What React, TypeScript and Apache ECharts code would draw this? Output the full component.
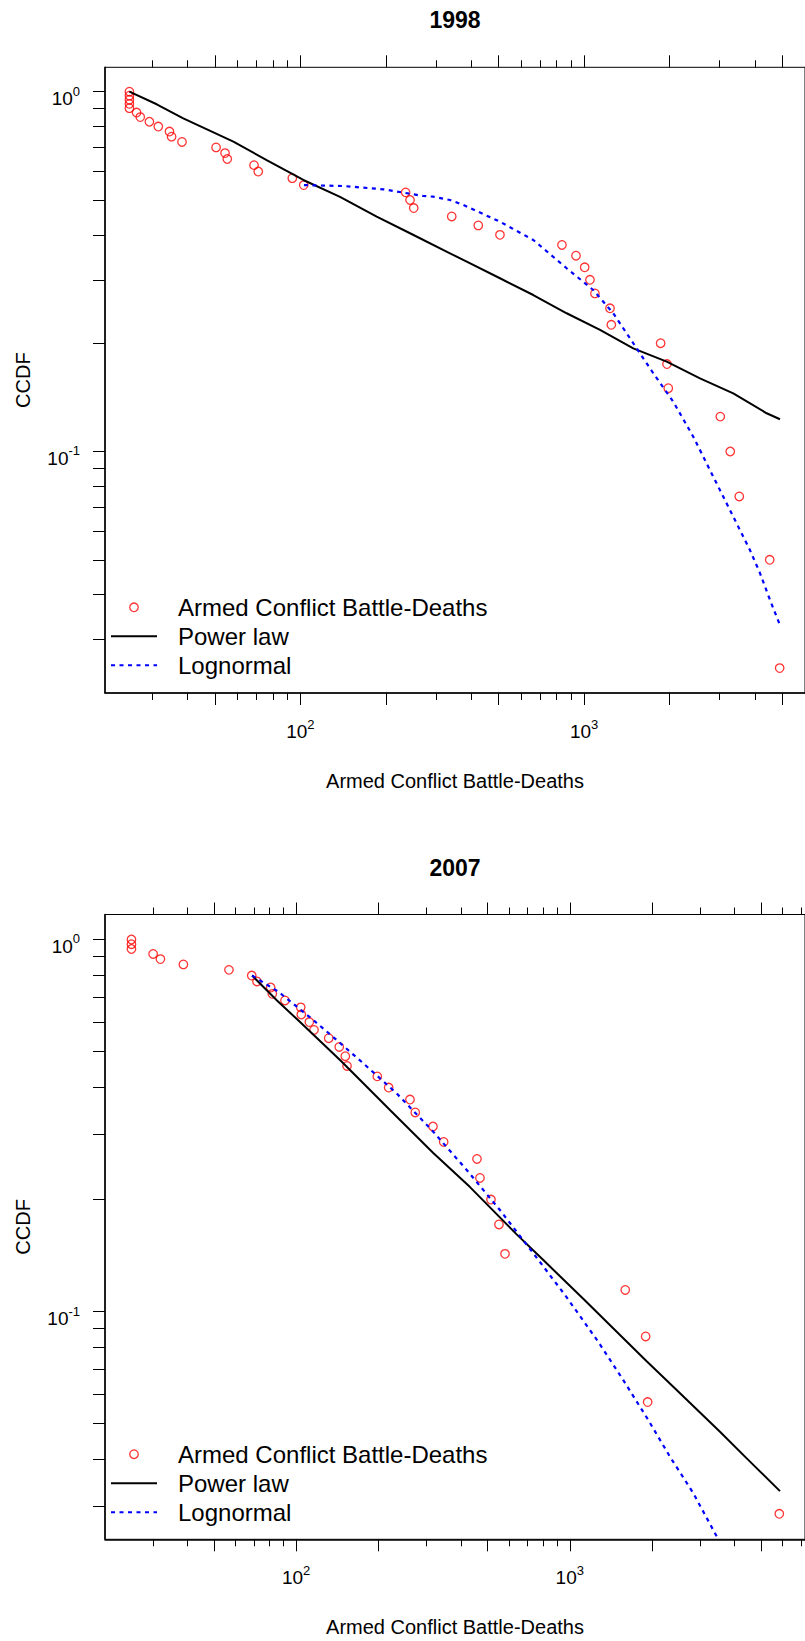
import React, { useEffect, useRef } from "react";
import * as echarts from "echarts";

const FONT = "'Liberation Sans', Arial, Helvetica, sans-serif";

// ---------- 1998 ----------
const deaths1998 = [25, 25, 25, 25, 25, 26.5, 27.3, 29.4, 31.6, 34.6, 35.2, 38.3, 50.5, 54.3, 55.3, 68.7, 71.1, 93.7, 102.8, 235, 243.5, 250.9, 341.5, 423.6, 505, 835, 935.7, 1004, 1048, 1091, 1233, 1246, 1859, 1957, 1978, 3016, 3270, 3518, 4503, 4882];
const ccdf1998 = [1, 0.975, 0.95, 0.925, 0.9, 0.875, 0.85, 0.825, 0.8, 0.775, 0.75, 0.725, 0.7, 0.675, 0.65, 0.625, 0.6, 0.575, 0.55, 0.525, 0.5, 0.475, 0.45, 0.425, 0.4, 0.375, 0.35, 0.325, 0.3, 0.275, 0.25, 0.225, 0.2, 0.175, 0.15, 0.125, 0.1, 0.075, 0.05, 0.025];
const powerLaw1998X = [25, 31.2, 38.7, 58.1, 76.1, 102.5, 138, 185.8, 243.5, 336.7, 385.6, 505, 661.8, 867.6, 1137, 1489, 1953, 2558, 3351, 4394, 4895];
const powerLaw1998Y = [1, 0.9226, 0.8435, 0.7262, 0.6457, 0.5683, 0.5102, 0.4494, 0.4042, 0.3555, 0.337, 0.303, 0.2722, 0.2422, 0.2177, 0.1935, 0.1777, 0.1597, 0.1451, 0.1277, 0.1229];
const lognormal1998X = [103, 141.7, 196.1, 271.3, 294.1, 336.7, 375, 505, 661.8, 867.6, 1076, 1266, 1489, 1751, 2060, 2423, 2849, 3351, 3837, 4162, 4512, 4866];
const lognormal1998Y = [0.55, 0.5468, 0.5355, 0.513, 0.5107, 0.5, 0.4844, 0.4352, 0.3871, 0.323, 0.2811, 0.2422, 0.1999, 0.165, 0.1375, 0.1099, 0.0851, 0.0659, 0.0532, 0.0459, 0.0387, 0.0333];
const xRange1998 = [20.51, 5996];
const yRange1998 = [0.02132, 1.1689];

// ---------- 2007 ----------
const deaths2007 = [25, 25, 25, 30, 31.9, 38.7, 56.8, 68.8, 71.9, 80.7, 81.8, 91, 103.9, 104.4, 111.7, 116.2, 131.5, 143.7, 151.2, 153.4, 197.9, 217.8, 260.6, 272.4, 316.2, 346, 458, 469.6, 515.2, 551, 579.8, 1595, 1894, 1926, 5832];
const ccdf2007 = [1, 0.9714, 0.9429, 0.9143, 0.8857, 0.8571, 0.8286, 0.8, 0.7714, 0.7429, 0.7143, 0.6857, 0.6571, 0.6286, 0.6, 0.5714, 0.5429, 0.5143, 0.4857, 0.4571, 0.4286, 0.4, 0.3714, 0.3429, 0.3143, 0.2857, 0.2571, 0.2286, 0.2, 0.1714, 0.1429, 0.1143, 0.0857, 0.0571, 0.0286];
const powerLaw2007X = [69, 84.9, 103.3, 144.6, 175.9, 220.2, 317, 431.9, 639.5, 800.3, 1120, 1526, 1910, 2389, 3540, 4433, 5865];
const powerLaw2007Y = [0.8, 0.6865, 0.6, 0.4745, 0.4108, 0.348, 0.2668, 0.216, 0.1612, 0.1375, 0.1082, 0.0865, 0.0735, 0.0628, 0.0475, 0.0403, 0.0329];
const lognormal2007X = [69, 86, 115.5, 140.6, 175.9, 232.9, 317, 420.1, 555.6, 735.6, 960.4, 1271, 1569, 1936, 2324, 2828, 3490];
const lognormal2007Y = [0.8, 0.724, 0.6074, 0.5368, 0.4647, 0.3859, 0.3043, 0.2401, 0.1874, 0.1434, 0.1108, 0.0829, 0.0654, 0.0511, 0.0407, 0.0325, 0.0244];
const xRange2007 = [20.01, 7240];
const yRange2007 = [0.02442, 1.1673];

// ---------- ticks / labels ----------
const majorXTicks = [20, 50, 100, 200, 500, 1000, 2000, 5000];
const minorXTicks = [30, 40, 60, 70, 80, 90, 300, 400, 600, 700, 800, 900, 3000, 4000, 6000, 7000, 8000, 9000];
const xLabelTicks = [100, 1000];
const yTicks = [1, 0.9, 0.8, 0.7, 0.6, 0.5, 0.4, 0.3, 0.2, 0.1, 0.09, 0.08, 0.07, 0.06, 0.05, 0.04, 0.03, 0.02];
const yLabelTicks = [1, 0.1];

const seriesNames = ["Armed Conflict Battle-Deaths", "Power law", "Lognormal"];
const xTitle = "Armed Conflict Battle-Deaths";
const yTitle = "CCDF";
const titles = ["1998", "2007"];

const zip = (xs: number[], ys: number[]) => xs.map((x, i) => [x, ys[i]]);

const rich = {
  b: { fontSize: 19, fontFamily: FONT, color: "#000", verticalAlign: "middle" },
  s: { fontSize: 13, fontFamily: FONT, color: "#000", verticalAlign: "middle", padding: [0, 0, 15, 0] },
};
const supFormatter = (v: number) => `{b|10}{s|${Math.round(Math.log10(v))}}`;

type Panel = {
  title: string;
  grid: { left: number; top: number; width: number; height: number };
  xRange: number[];
  yRange: number[];
  pts: number[][];
  pl: number[][];
  ln: number[][];
  legendTop: number;
  titleTop: number;
};

const panels: Panel[] = [
  {
    title: titles[0],
    grid: { left: 105, top: 67.3, width: 700, height: 625.7 },
    xRange: xRange1998,
    yRange: yRange1998,
    pts: zip(deaths1998, ccdf1998),
    pl: zip(powerLaw1998X, powerLaw1998Y),
    ln: zip(lognormal1998X, lognormal1998Y),
    legendTop: 595.3,
    titleTop: 20,
  },
  {
    title: titles[1],
    grid: { left: 105, top: 914.5, width: 700, height: 624.8 },
    xRange: xRange2007,
    yRange: yRange2007,
    pts: zip(deaths2007, ccdf2007),
    pl: zip(powerLaw2007X, powerLaw2007Y),
    ln: zip(lognormal2007X, lognormal2007Y),
    legendTop: 1442.2,
    titleTop: 868,
  },
];

function buildOption() {
  const grid: any[] = [];
  const xAxis: any[] = [];
  const yAxis: any[] = [];
  const series: any[] = [];
  const legend: any[] = [];
  const title: any[] = [];

  panels.forEach((p, pi) => {
    grid.push({
      ...p.grid,
      show: true,
      borderColor: "#000",
      borderWidth: 1,
      backgroundColor: "transparent",
    });
    const xBase = {
      type: "log",
      logBase: 10,
      gridIndex: pi,
      min: p.xRange[0],
      max: p.xRange[1],
      splitLine: { show: false },
    };
    const xStart = xAxis.length;
    // bottom: major ticks, labels and title
    xAxis.push({
      ...xBase,
      position: "bottom",
      axisLine: { show: true, onZero: false, lineStyle: { color: "#000", width: 1.5 } },
      axisTick: { show: true, customValues: majorXTicks, length: 12, lineStyle: { color: "#000", width: 1 } },
      axisLabel: {
        show: true,
        customValues: xLabelTicks,
        formatter: supFormatter,
        rich,
        fontSize: 19,
        fontFamily: FONT,
        margin: 24.5,
        color: "#000",
      },
      name: xTitle,
      nameLocation: "middle",
      nameGap: 78,
      nameTextStyle: { fontSize: 20, fontFamily: FONT, color: "#000" },
    });
    // bottom: minor ticks
    xAxis.push({
      ...xBase,
      position: "bottom",
      axisLine: { show: false, onZero: false },
      axisTick: { show: true, customValues: minorXTicks, length: 7, lineStyle: { color: "#000", width: 1 } },
      axisLabel: { show: false },
    });
    // top: major ticks
    xAxis.push({
      ...xBase,
      position: "top",
      axisLine: { show: false, onZero: false },
      axisTick: { show: true, customValues: majorXTicks, length: 12, lineStyle: { color: "#000", width: 1 } },
      axisLabel: { show: false },
    });
    // top: minor ticks
    xAxis.push({
      ...xBase,
      position: "top",
      axisLine: { show: false, onZero: false },
      axisTick: { show: true, customValues: minorXTicks, length: 7, lineStyle: { color: "#000", width: 1 } },
      axisLabel: { show: false },
    });

    yAxis.push({
      type: "log",
      logBase: 10,
      gridIndex: pi,
      min: p.yRange[0],
      max: p.yRange[1],
      position: "left",
      splitLine: { show: false },
      axisLine: { show: true, onZero: false, lineStyle: { color: "#000", width: 1.5 } },
      axisTick: { show: true, customValues: yTicks, length: 12, lineStyle: { color: "#000", width: 1 } },
      axisLabel: {
        show: true,
        customValues: yLabelTicks,
        formatter: supFormatter,
        rich,
        fontSize: 19,
        fontFamily: FONT,
        margin: 25,
        padding: [14, 0, 0, 0],
        color: "#000",
      },
      name: yTitle,
      nameLocation: "middle",
      nameGap: 72.5,
      nameTextStyle: { fontSize: 20, fontFamily: FONT, color: "#000" },
    });

    series.push({
      type: "scatter",
      name: seriesNames[0],
      xAxisIndex: xStart,
      yAxisIndex: pi,
      data: p.pts,
      symbol: "circle",
      symbolSize: 8.5,
      itemStyle: { color: "transparent", borderColor: "#ff0000", borderWidth: 1.3 },
      silent: true,
    });
    series.push({
      type: "line",
      name: seriesNames[1],
      xAxisIndex: xStart,
      yAxisIndex: pi,
      data: p.pl,
      symbol: "none",
      lineStyle: { color: "#000", width: 2 },
      itemStyle: { color: "#000" },
      silent: true,
    });
    series.push({
      type: "line",
      name: seriesNames[2],
      xAxisIndex: xStart,
      yAxisIndex: pi,
      data: p.ln,
      symbol: "none",
      lineStyle: { color: "#0000ff", width: 2.2, type: [4, 4.5] },
      itemStyle: { color: "#0000ff" },
      silent: true,
    });

    legend.push({
      orient: "vertical",
      left: 110,
      top: p.legendTop,
      padding: 0,
      itemWidth: 46,
      itemHeight: 8.5,
      itemGap: 5,
      selectedMode: false,
      data: [
        { name: seriesNames[0], itemStyle: { color: "transparent", borderColor: "#ff0000", borderWidth: 1.3 } },
        { name: seriesNames[1], itemStyle: { opacity: 0 } },
        { name: seriesNames[2], itemStyle: { opacity: 0 } },
      ],
      textStyle: { fontSize: 24, fontFamily: FONT, color: "#000", padding: [0, 0, 0, 16] },
    });

    title.push({
      text: p.title,
      left: 455,
      top: p.titleTop,
      textAlign: "center",
      textVerticalAlign: "middle",
      padding: 0,
      textStyle: { fontSize: 23, fontWeight: "bold", fontFamily: FONT, color: "#000" },
    });
  });

  return {
    animation: false,
    backgroundColor: "#fff",
    textStyle: { fontFamily: FONT },
    title,
    grid,
    xAxis,
    yAxis,
    legend,
    series,
  };
}

export default function App() {
  const ref = useRef<HTMLDivElement>(null);
  useEffect(() => {
    if (!ref.current) return;
    const chart = echarts.init(ref.current, null, { renderer: "svg" });
    chart.setOption(buildOption() as any);
    return () => chart.dispose();
  }, []);
  return (
    <div
      ref={ref}
      style={{ position: "absolute", left: 0, top: 0, width: 805, height: 1641 }}
    />
  );
}
